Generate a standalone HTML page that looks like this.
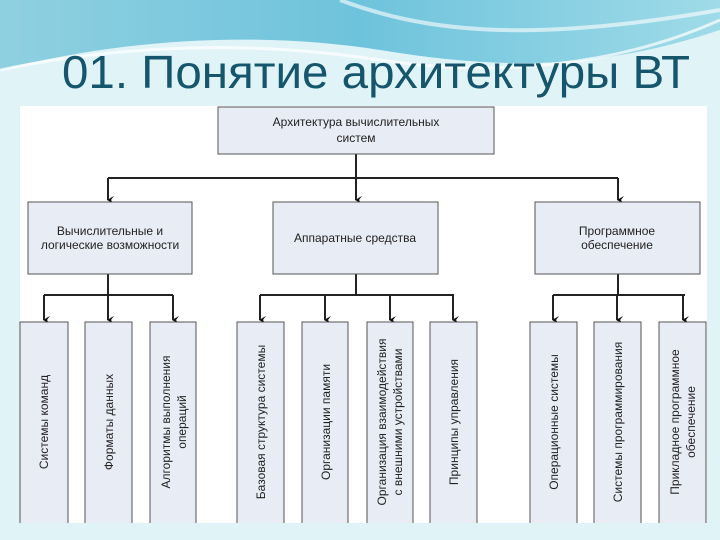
<!DOCTYPE html>
<html><head><meta charset="utf-8"><style>
body{margin:0;width:720px;height:540px;overflow:hidden;background:#dff3f7;font-family:"Liberation Sans",sans-serif}
</style></head><body>
<svg width="720" height="540" xmlns="http://www.w3.org/2000/svg" style="position:absolute;left:0;top:0">
<defs><linearGradient id="g" x1="0" y1="0" x2="1" y2="0"><stop offset="0" stop-color="#8fd0e0"/><stop offset="0.5" stop-color="#6ec3dc"/><stop offset="1" stop-color="#9fdbe8"/></linearGradient>
<marker id="a" markerWidth="8" markerHeight="8" refX="4" refY="6" orient="auto" markerUnits="userSpaceOnUse"><path d="M0,0 L4,7 L8,0 L4,3z" fill="#111"/></marker></defs>
<rect width="720" height="540" fill="#e0f4f8"/>
<path d="M0,0 H720 V30 C600,70 500,70 380,50 C250,30 120,40 0,70 Z" fill="url(#g)"/>
<path d="M0,70 C120,45 250,40 380,60 C500,78 620,65 720,20" fill="none" stroke="#fff" stroke-width="3" opacity="0.7"/>
<path d="M340,0 C420,30 520,45 720,10" fill="none" stroke="#fff" stroke-width="4" opacity="0.6"/>
<text x="62" y="88" font-size="46" fill="#15566c" textLength="628" lengthAdjust="spacingAndGlyphs">01. Понятие архитектуры ВТ</text>
<rect x="20" y="106" width="687" height="417" fill="#fff"/>
<g stroke="#222" stroke-width="2" fill="none">
<path d="M356,154 V178 M108,178 H618"/>
<path d="M108,274 V295 M44,295 H173 M356,274 V295 M260,295 H454 M618,274 V295 M553,295 H685"/>
</g>
<g stroke="#222" stroke-width="2" fill="none" marker-end="url(#a)">
<path d="M108,178 V200"/><path d="M356,178 V200"/><path d="M618,178 V200"/>
<path d="M44,295 V320"/><path d="M108,295 V320"/><path d="M173,295 V320"/>
<path d="M260,295 V320"/><path d="M325,295 V320"/><path d="M390,295 V320"/><path d="M453,295 V320"/>
<path d="M553,295 V320"/><path d="M617,295 V320"/><path d="M683,295 V320"/>
</g>
<g fill="#e8ecf4" stroke="#555" stroke-width="1">
<rect x="218" y="107" width="276" height="47"/>
<rect x="28" y="202" width="164" height="72"/>
<rect x="273" y="202" width="165" height="72"/>
<rect x="535" y="202" width="165" height="72"/>
</g>
<g fill="#e8ecf4" stroke="#555" stroke-width="1">
<path d="M20,523 V322 H68 V523 M85,523 V322 H132 V523 M150,523 V322 H196 V523 M237,523 V322 H284 V523 M302,523 V322 H348 V523 M367,523 V322 H413 V523 M430,523 V322 H477 V523 M530,523 V322 H577 V523 M594,523 V322 H641 V523 M659,523 V322 H706 V523"/>
</g>
<g font-size="12" fill="#222" text-anchor="middle">
<text x="356" y="126">Архитектура вычислительных</text><text x="356" y="142">систем</text>
<text x="110" y="235">Вычислительные и</text><text x="110" y="249">логические возможности</text>
<text x="355" y="242">Аппаратные средства</text>
<text x="617" y="235">Программное</text><text x="617" y="249">обеспечение</text>
</g>
<g font-size="12" fill="#222" text-anchor="middle">
<text transform="translate(48,422) rotate(-90)">Системы команд</text>
<text transform="translate(113,422) rotate(-90)">Форматы данных</text>
<text transform="translate(170,422) rotate(-90)">Алгоритмы выполнения</text>
<text transform="translate(186,422) rotate(-90)">операций</text>
<text transform="translate(265,422) rotate(-90)">Базовая структура системы</text>
<text transform="translate(330,422) rotate(-90)">Организации памяти</text>
<text transform="translate(386,422) rotate(-90)">Организация взаимодействия</text>
<text transform="translate(402,422) rotate(-90)">с внешними устройствами</text>
<text transform="translate(458,422) rotate(-90)">Принципы управления</text>
<text transform="translate(558,422) rotate(-90)">Операционные системы</text>
<text transform="translate(622,422) rotate(-90)">Системы программирования</text>
<text transform="translate(679,422) rotate(-90)">Прикладное программное</text>
<text transform="translate(695,422) rotate(-90)">обеспечение</text>
</g>
</svg>
</body></html>
